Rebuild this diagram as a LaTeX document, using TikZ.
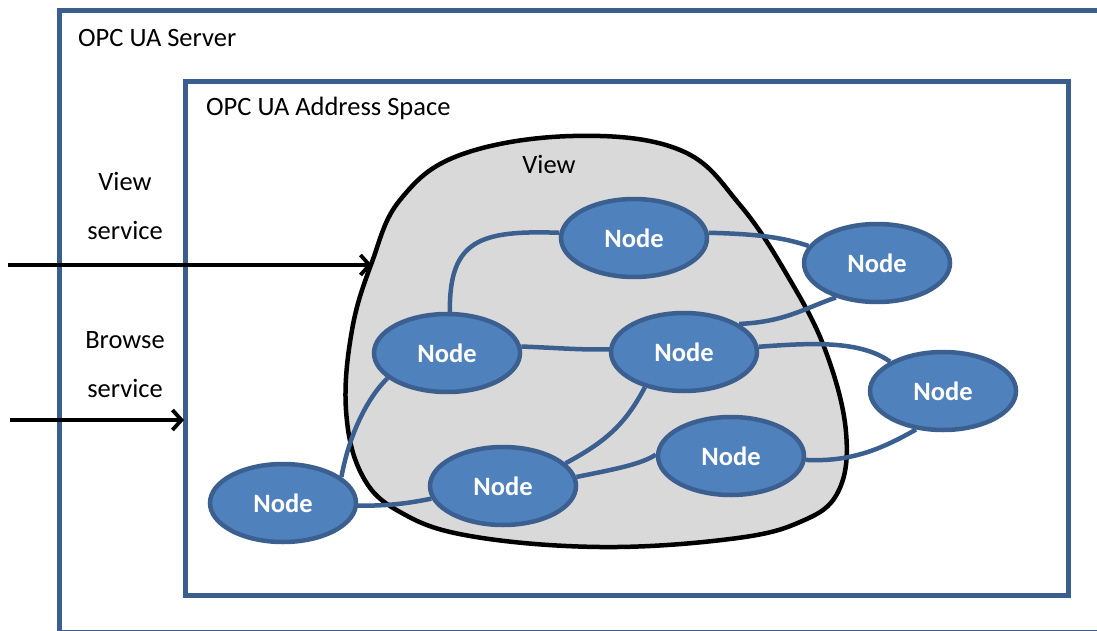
\documentclass[tikz,border=0pt]{standalone}
\usepackage{fontspec}
\setmainfont{Carlito}
\usetikzlibrary{shapes.geometric,arrows.meta,backgrounds}
\definecolor{boxblue}{HTML}{3A5F8F}
\definecolor{nodefill}{HTML}{4F81BD}
\definecolor{nodeline}{HTML}{3B6090}
\definecolor{viewgray}{HTML}{D9D9D9}
\tikzset{
  frame/.style={draw=boxblue, line width=5pt},
  uanode/.style={ellipse, draw=nodeline, fill=nodefill, line width=4.5pt,
    minimum width=146pt, minimum height=78pt, inner sep=0pt,
    text=white, font=\fontsize{26.5}{30}\selectfont\bfseries},
  link/.style={draw=nodeline, line width=4.5pt},
  label/.style={font=\fontsize{26.5}{30}\selectfont, inner sep=0pt},
  svc/.style={draw=black, line width=3.8pt, -{Straight Barb[length=9pt,width=20pt]}}
}
\begin{document}
\begin{tikzpicture}[x=1pt,y=-1pt]
\useasboundingbox (0,0) rectangle (1097,631);
\clip (0,0) rectangle (1097,631);
\begin{scope}[on background layer]
  \fill[white] (0,0) rectangle (1097,631);
  \draw[frame] (59,11) rectangle (1115,632);
  \draw[frame] (185,82) rectangle (1068,595);
  \draw[black, line width=4.5pt, fill=viewgray] plot[smooth cycle, tension=0.65] coordinates {
    (573,136) (680,150) (740,205) (790,280) (826,352) (846,432) (838,492)
    (800,522) (730,539) (600,547) (470,536) (400,512) (362,475) (346,410)
    (352,330) (372,262) (400,200) (460,155)};
\end{scope}

\node[label, anchor=base west] (srv) at (78,47) {OPC UA Server};
\node[label, anchor=base west] (as) at (206,116) {OPC UA Address Space};
\node[label, anchor=base] (vw) at (549,174) {View};
\node[label, anchor=base] (vs1) at (125,190) {View};
\node[label, anchor=base] (vs2) at (125,240) {service};
\node[label, anchor=base] (bs1) at (125,348) {Browse};
\node[label, anchor=base] (bs2) at (125,397) {service};

\node[uanode] (A) at (634,238) {Node};
\node[uanode] (B) at (447,353) {Node};
\node[uanode] (C) at (684,352) {Node};
\node[uanode] (D) at (877,263) {Node};
\node[uanode] (E) at (943,391) {Node};
\node[uanode] (F) at (731,456) {Node};
\node[uanode] (G) at (503,486) {Node};
\node[uanode] (H) at (283,503) {Node};

\coordinate (vstart) at (8,265);
\coordinate (vend) at (372,265);
\coordinate (bstart) at (10,420);
\coordinate (bend) at (184,420);
\draw[svc] (vstart) -- (vend);
\draw[svc] (bstart) -- (bend);

\begin{scope}[on background layer]
  \draw[link] (B.86) .. controls (449,240) and (480,230) .. (A.176);
  \draw[link] (A.4) .. controls (760,234) and (785,238) .. (D.166);
  \draw[link] (C.27) .. controls (785,322) and (805,308) .. (D.-140);
  \draw[link] (B.5) .. controls (560,348) and (580,350) .. (C.178);
  \draw[link] (C.4) .. controls (810,343) and (860,340) .. (E.151);
  \draw[link] (F.-3) .. controls (850,462) and (880,450) .. (E.-125);
  \draw[link] (B.203) .. controls (370,395) and (350,430) .. (H.24);
  \draw[link] (H.-2) .. controls (390,506) and (410,503) .. (G.190);
  \draw[link] (G.20) .. controls (605,442) and (625,425) .. (C.-138);
  \draw[link] (G.7) .. controls (610,470) and (640,465) .. (F.179);
\end{scope}
\end{tikzpicture}
\end{document}
